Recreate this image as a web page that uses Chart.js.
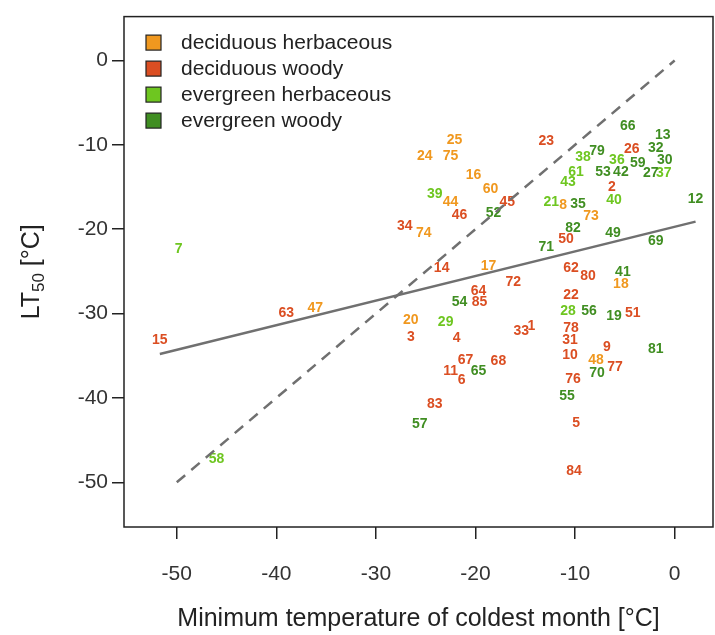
<!DOCTYPE html>
<html>
<head>
<meta charset="utf-8">
<title>LT50 vs minimum temperature of coldest month</title>
<script src="https://cdn.jsdelivr.net/npm/chart.js@4.4.0/dist/chart.umd.min.js"></script>
<style>
  html, body { margin: 0; padding: 0; background: #fff; }
</style>
</head>
<body>
<canvas id="chart" width="715" height="635"></canvas>
<script>
// Species numbers with min. temperature of coldest month (x) and LT50 (y), by growth form
const decHerbIds = [8, 16, 17, 18, 20, 24, 25, 44, 47, 48, 60, 73, 74, 75];
const decHerbX = [-11.2, -20.2, -18.7, -5.4, -26.5, -25.1, -22.1, -22.5, -36.1, -7.9, -18.5, -8.4, -25.2, -22.5];
const decHerbY = [-17.1, -13.6, -24.4, -26.5, -30.8, -11.3, -9.4, -16.8, -29.3, -35.5, -15.2, -18.4, -20.5, -11.3];

const decWoodyIds = [1, 2, 3, 4, 5, 6, 9, 10, 11, 14, 15, 22, 23, 26, 31, 33, 34, 45, 46, 50, 51, 62, 63, 64, 67, 68, 72, 76, 77, 78, 80, 83, 84, 85];
const decWoodyX = [-14.4, -6.3, -26.5, -21.9, -9.9, -21.4, -6.8, -10.5, -22.5, -23.4, -51.7, -10.4, -12.9, -4.3, -10.5, -15.4, -27.1, -16.8, -21.6, -10.9, -4.2, -10.4, -39.0, -19.7, -21.0, -17.7, -16.2, -10.2, -6.0, -10.4, -8.7, -24.1, -10.1, -19.6];
const decWoodyY = [-31.5, -15.0, -32.8, -32.9, -43.0, -37.9, -34.0, -34.9, -36.8, -24.6, -33.1, -27.8, -9.6, -10.5, -33.1, -32.1, -19.6, -16.8, -18.3, -21.2, -29.9, -24.6, -29.9, -27.3, -35.5, -35.6, -26.3, -37.8, -36.4, -31.7, -25.6, -40.7, -48.7, -28.7];

const evHerbIds = [7, 21, 28, 29, 36, 37, 38, 39, 40, 43, 58, 61];
const evHerbX = [-49.8, -12.4, -10.7, -23.0, -5.8, -1.1, -9.2, -24.1, -6.1, -10.7, -46.0, -9.9];
const evHerbY = [-22.4, -16.8, -29.7, -31.0, -11.8, -13.4, -11.5, -15.8, -16.6, -14.4, -47.3, -13.2];

const evWoodyIds = [12, 13, 19, 27, 30, 32, 35, 41, 42, 49, 52, 53, 54, 55, 56, 57, 59, 65, 66, 69, 70, 71, 79, 81, 82];
const evWoodyX = [2.1, -1.2, -6.1, -2.4, -1.0, -1.9, -9.7, -5.2, -5.4, -6.2, -18.2, -7.2, -21.6, -10.8, -8.6, -25.6, -3.7, -19.7, -4.7, -1.9, -7.8, -12.9, -7.8, -1.9, -10.2];
const evWoodyY = [-16.4, -8.8, -30.3, -13.4, -11.8, -10.4, -17.0, -25.1, -13.2, -20.5, -18.1, -13.2, -28.6, -39.8, -29.7, -43.1, -12.2, -36.8, -7.8, -21.4, -37.1, -22.1, -10.7, -34.2, -19.9];

// regression line end points and the 1:1 line
const fitX = [-51.7, 2.1];
const fitY = [-34.8, -19.1];
const oneToOne = [-50, 0];

const xTicks = [-50, -40, -30, -20, -10, 0];
const yTicks = [-50, -40, -30, -20, -10, 0];

const FONT = 'Arial, "Liberation Sans", sans-serif';

function points(xs, ys) {
  return xs.map((x, i) => ({ x: x, y: ys[i] }));
}

function group(label, ids, xs, ys, color) {
  return {
    label: label,
    ids: ids,
    data: points(xs, ys),
    textColor: color,
    backgroundColor: color,
    pointRadius: 0,
    pointHoverRadius: 0
  };
}

// species numbers are drawn instead of point symbols
const numberLabels = {
  id: 'numberLabels',
  beforeDatasetsDraw(chart) {
    const ctx = chart.ctx;
    ctx.save();
    ctx.font = 'bold 14px ' + FONT;
    ctx.textAlign = 'center';
    ctx.textBaseline = 'middle';
    chart.data.datasets.forEach((ds, i) => {
      if (!ds.ids) return;
      ctx.fillStyle = ds.textColor;
      chart.getDatasetMeta(i).data.forEach((pt, j) => {
        ctx.fillText(String(ds.ids[j]), pt.x, pt.y);
      });
    });
    ctx.restore();
  }
};

// box around the plot, legend in the top-left corner, y axis title with subscript
const frameAndLegend = {
  id: 'frameAndLegend',
  afterDraw(chart) {
    const ctx = chart.ctx;
    const a = chart.chartArea;
    ctx.save();
    ctx.strokeStyle = '#222';
    ctx.lineWidth = 1.5;
    ctx.strokeRect(a.left, a.top, a.right - a.left, a.bottom - a.top);

    ctx.font = '21px ' + FONT;
    ctx.textBaseline = 'middle';
    ctx.textAlign = 'left';
    let row = 0;
    chart.data.datasets.forEach((ds) => {
      if (!ds.ids) return;
      const y = a.top + 26 + row * 26;
      ctx.fillStyle = ds.textColor;
      ctx.fillRect(a.left + 22, y - 7.5, 15, 15);
      ctx.strokeStyle = '#222';
      ctx.lineWidth = 1.2;
      ctx.strokeRect(a.left + 22, y - 7.5, 15, 15);
      ctx.fillStyle = '#222';
      ctx.fillText(ds.label, a.left + 57, y + 1);
      row++;
    });

    // LT50 [°C]
    const big = '25px ' + FONT;
    const small = '17px ' + FONT;
    ctx.font = big;
    const wLT = ctx.measureText('LT').width;
    const wRest = ctx.measureText(' [°C]').width;
    ctx.font = small;
    const wSub = ctx.measureText('50').width;
    const total = wLT + wSub + wRest;
    ctx.translate(30, (a.top + a.bottom) / 2);
    ctx.rotate(-Math.PI / 2);
    ctx.fillStyle = '#222';
    ctx.textBaseline = 'alphabetic';
    let x = -total / 2;
    ctx.font = big;
    ctx.fillText('LT', x, 9);
    x += wLT;
    ctx.font = small;
    ctx.fillText('50', x, 14);
    x += wSub;
    ctx.font = big;
    ctx.fillText(' [°C]', x, 9);
    ctx.restore();
  }
};

new Chart(document.getElementById('chart'), {
  type: 'scatter',
  data: {
    datasets: [
      group('deciduous herbaceous', decHerbIds, decHerbX, decHerbY, '#F0981F'),
      group('deciduous woody', decWoodyIds, decWoodyX, decWoodyY, '#DB4E22'),
      group('evergreen herbaceous', evHerbIds, evHerbX, evHerbY, '#6EC620'),
      group('evergreen woody', evWoodyIds, evWoodyX, evWoodyY, '#408E22'),
      {
        label: 'fit',
        data: points(fitX, fitY),
        showLine: true,
        borderColor: '#707070',
        borderWidth: 2.5,
        pointRadius: 0
      },
      {
        label: '1:1',
        data: points(oneToOne, oneToOne),
        showLine: true,
        borderColor: '#707070',
        borderWidth: 2.5,
        borderDash: [11, 8],
        pointRadius: 0
      }
    ]
  },
  options: {
    responsive: false,
    animation: false,
    devicePixelRatio: 1,
    layout: { padding: { top: 12, right: 2, left: 0, bottom: 0 } },
    plugins: {
      legend: { display: false },
      tooltip: { enabled: false }
    },
    scales: {
      x: {
        type: 'linear',
        min: -55.3,
        max: 3.85,
        afterBuildTicks: (s) => { s.ticks = xTicks.map((v) => ({ value: v })); },
        afterFit: (s) => { s.height = 108; },
        border: { display: false },
        grid: { drawOnChartArea: false, tickLength: 12, tickColor: '#222', lineWidth: 1.5 },
        ticks: { color: '#333', padding: 23, maxRotation: 0, font: { size: 21, family: FONT } },
        title: {
          display: true,
          text: 'Minimum temperature of coldest month [°C]',
          color: '#222',
          font: { size: 25, family: FONT },
          padding: { top: 0, bottom: 1 }
        }
      },
      y: {
        type: 'linear',
        min: -55.3,
        max: 5.2,
        afterBuildTicks: (s) => { s.ticks = yTicks.map((v) => ({ value: v })); },
        afterFit: (s) => { s.width = 124; },
        border: { display: false },
        grid: { drawOnChartArea: false, tickLength: 12, tickColor: '#222', lineWidth: 1.5 },
        ticks: { color: '#333', padding: 4, font: { size: 21, family: FONT } }
      }
    }
  },
  plugins: [numberLabels, frameAndLegend]
});
</script>
</body>
</html>
